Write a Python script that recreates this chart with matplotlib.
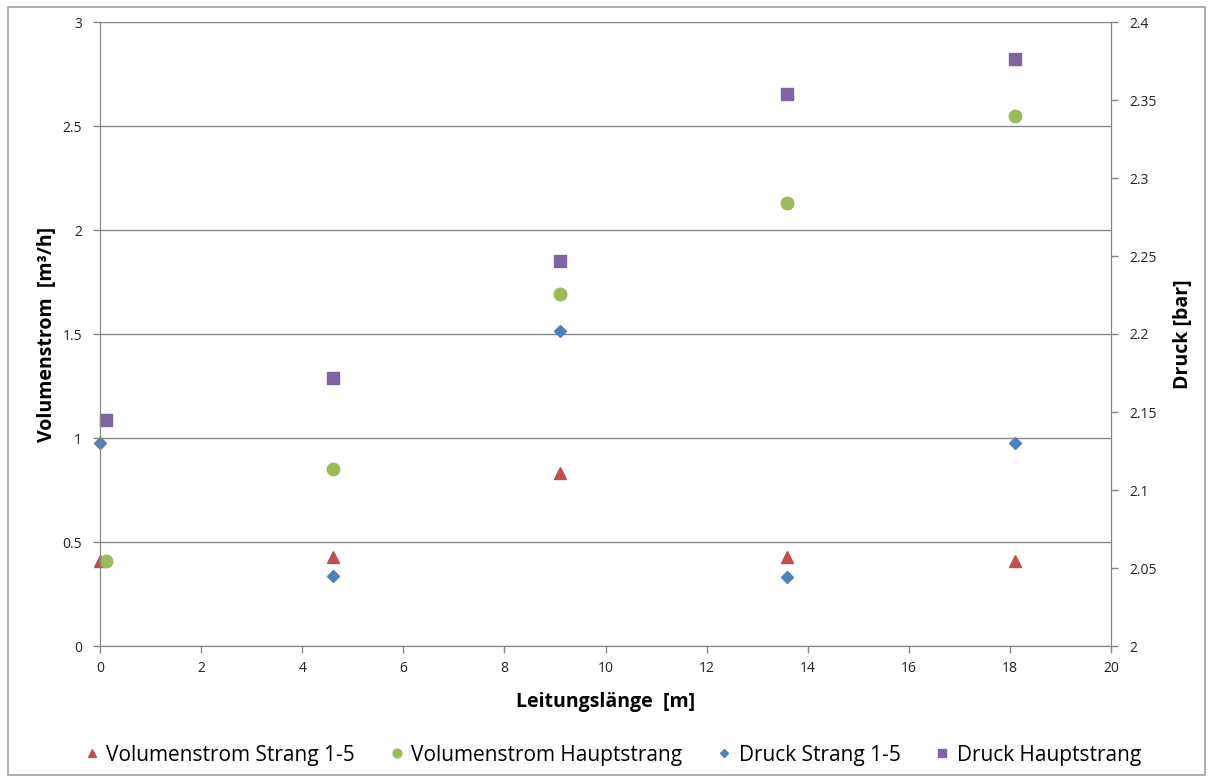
import matplotlib.pyplot as plt
from matplotlib.patches import Rectangle
from matplotlib.ticker import FuncFormatter

plt.rcParams['font.family'] = ['Open Sans', 'DejaVu Sans']

# data
x_strang = [0.0, 4.6, 9.1, 13.6, 18.1]
x_haupt = [0.12, 4.6, 9.1, 13.6, 18.1]

vol_strang = [0.41, 0.43, 0.83, 0.43, 0.41]
vol_haupt = [0.41, 0.85, 1.69, 2.13, 2.55]
druck_strang = [2.130, 2.045, 2.202, 2.044, 2.130]
druck_haupt = [2.145, 2.172, 2.247, 2.354, 2.376]

labels = ['Volumenstrom Strang 1-5', 'Volumenstrom Hauptstrang',
          'Druck Strang 1-5', 'Druck Hauptstrang']

GRAY = '#868686'

fig = plt.figure(figsize=(12.12, 7.81), dpi=100)
fig.patches.append(Rectangle((8 / 1212, 6 / 781), 1197 / 1212, 768 / 781,
                             transform=fig.transFigure, fill=False,
                             edgecolor='#A0A0A0', lw=1.2))

ax = fig.add_axes([100 / 1212, 1 - 646 / 781, 1011 / 1212, 624 / 781])
ax2 = ax.twinx()

h1, = ax.plot(x_strang, vol_strang, '^', color='#C0504D', ms=9, ls='none', clip_on=False)
h2, = ax.plot(x_haupt, vol_haupt, 'o', color='#9BBB59', ms=9, ls='none', clip_on=False)
h3, = ax2.plot(x_strang, druck_strang, 'D', color='#4F81BD', ms=6.5, ls='none', clip_on=False)
h4, = ax2.plot(x_haupt, druck_haupt, 's', color='#8064A2', ms=9, ls='none', clip_on=False)

ax.set_xlim(0, 20)
ax.set_ylim(0, 3)
ax2.set_ylim(2, 2.4)
ax.set_xticks(range(0, 21, 2))
ax.set_yticks([0, 0.5, 1, 1.5, 2, 2.5, 3])
ax2.set_yticks([2, 2.05, 2.1, 2.15, 2.2, 2.25, 2.3, 2.35, 2.4])
fmt = FuncFormatter(lambda v, p: f'{v:g}')
ax.yaxis.set_major_formatter(fmt)
ax2.yaxis.set_major_formatter(fmt)

ax.grid(axis='y', color=GRAY, lw=1)
ax.set_axisbelow(True)

for a in (ax, ax2):
    for s in a.spines.values():
        s.set_color(GRAY)
    a.tick_params(colors=GRAY, labelcolor='#222222', labelsize=10,
                  direction='out', length=5, width=1)
ax.spines['top'].set_visible(False)
ax2.spines['top'].set_visible(False)
ax.tick_params(axis='y', pad=8)
ax2.tick_params(axis='y', pad=8)
ax.tick_params(axis='x', pad=6)

ax.set_xlabel('Leitungslänge  [m]', fontsize=14, fontweight='bold', labelpad=11)
ax.set_ylabel('Volumenstrom  [m³/h]', fontsize=14, fontweight='bold', labelpad=4)
ax2.set_ylabel('Druck [bar]', fontsize=14, fontweight='bold', labelpad=12)

fig.legend([h1, h2, h3, h4], labels, loc='center', bbox_to_anchor=(0.505, 1 - 755 / 781),
           ncol=4, frameon=False, fontsize=15, handlelength=0.8, handletextpad=0.3,
           columnspacing=1.6, markerscale=0.7)

fig.savefig('out.png', dpi=100)
